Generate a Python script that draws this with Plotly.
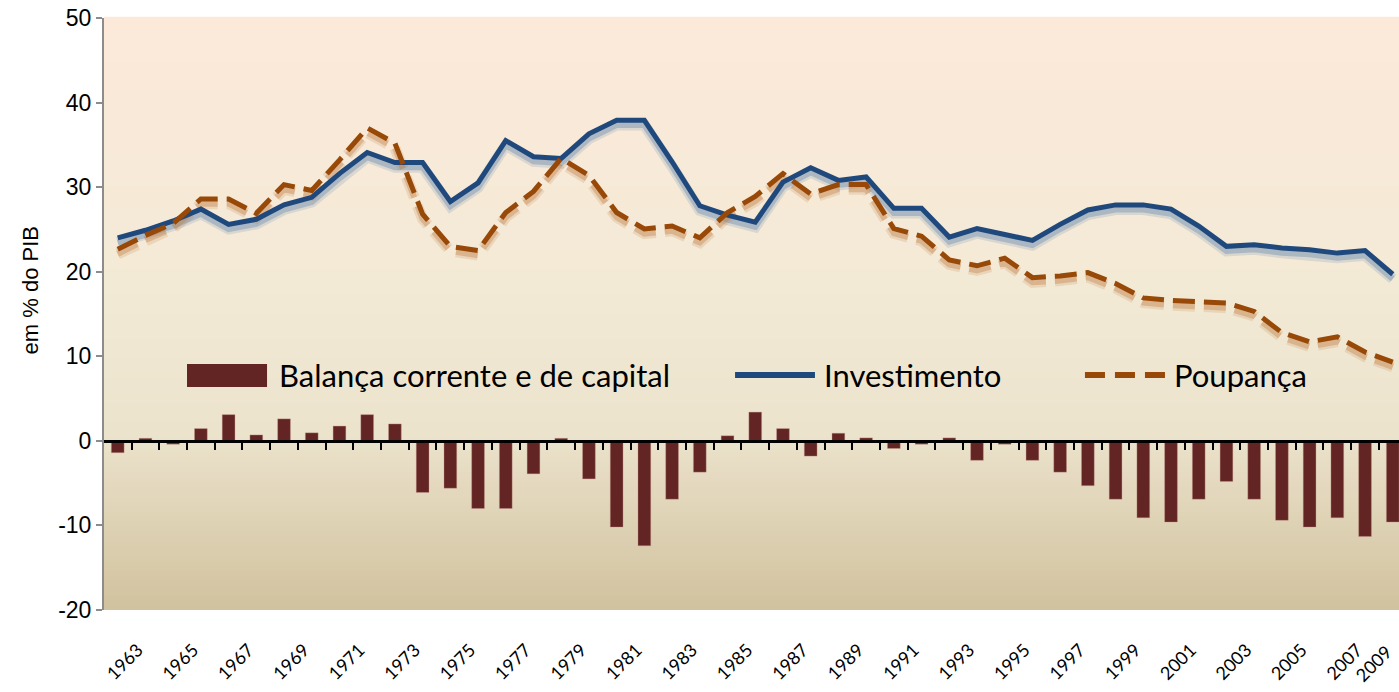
import plotly.graph_objects as go

# ---------------- data ----------------
years = list(range(1963, 2010))
tick_years = list(range(1963, 2008, 2))
last_tick_year = [2009]
y_ticks = [-20, -10, 0, 10, 20, 30, 40, 50]
y_tick_text = ["-20", "-10", "0", "10", "20", "30", "40", "50"]

balanca = [-1.4, 0.3, -0.4, 1.45, 3.1, 0.7, 2.6, 0.95, 1.75, 3.1,
           2.0, -6.1, -5.6, -8.0, -8.0, -3.9, 0.3, -4.5, -10.2, -12.4,
           -6.9, -3.7, 0.6, 3.4, 1.45, -1.8, 0.9, 0.35, -0.9, -0.4,
           0.35, -2.3, -0.4, -2.3, -3.7, -5.3, -6.9, -9.1, -9.6, -6.9,
           -4.8, -6.9, -9.4, -10.2, -9.1, -11.3, -9.6]

investimento = [24.0, 24.9, 26.0, 27.4, 25.6, 26.2, 27.9, 28.8, 31.6, 34.1,
                32.9, 32.9, 28.3, 30.5, 35.5, 33.6, 33.4, 36.3, 37.9, 37.9,
                33.0, 27.8, 26.7, 25.85, 30.6, 32.3, 30.8, 31.2, 27.5, 27.5,
                24.1, 25.1, 24.4, 23.7, 25.6, 27.3, 27.9, 27.9, 27.4, 25.4,
                23.0, 23.2, 22.8, 22.6, 22.2, 22.5, 19.7]

poupanca = [22.65, 24.3, 25.7, 28.6, 28.6, 26.9, 30.3, 29.6, 33.2, 37.0,
            35.2, 26.8, 23.0, 22.5, 27.0, 29.5, 33.4, 31.4, 27.0, 25.05,
            25.4, 24.0, 27.0, 28.9, 31.6, 29.2, 30.3, 30.3, 25.1, 24.2,
            21.4, 20.7, 21.6, 19.3, 19.5, 19.9, 18.6, 16.9, 16.6, 16.5,
            16.3, 15.3, 12.8, 11.7, 12.3, 10.5, 9.3]

names = ["Balança corrente e de capital", "Investimento", "Poupança"]

# ---------------- styles ----------------
C_BAR = "#632523"
C_INV = "#1F497D"
C_POU = "#984807"
Y_MIN, Y_MAX = -20, 50
SHADOW = 0.55  # shadow offset in data units (visual effect only)
LEG_FONT = dict(family="Lato", size=31, color="black")
XTICK_FONT = dict(family="Lato", size=18, color="black")

fig = go.Figure()

# background gradient bands (plot area)
stops = [(0.0, (209, 194, 158)), (0.30, (236, 227, 205)),
         (0.55, (243, 234, 214)), (1.0, (252, 233, 218))]


def col_at(t):
    for (t0, c0), (t1, c1) in zip(stops[:-1], stops[1:]):
        if t0 <= t <= t1:
            f = (t - t0) / (t1 - t0)
            return "rgb(%d,%d,%d)" % tuple(round(a + (b - a) * f) for a, b in zip(c0, c1))
    return "rgb(%d,%d,%d)" % stops[-1][1]


N = 120
shapes = []
for i in range(N):
    y0 = i / N
    y1 = (i + 1) / N
    shapes.append(dict(type="rect", xref="paper", yref="paper", x0=0, x1=1,
                       y0=y0, y1=y1 + 0.002, fillcolor=col_at((y0 + y1) / 2),
                       line=dict(width=0), layer="below"))

# bars
fig.add_trace(go.Bar(x=years, y=balanca, name=names[0], marker_color=C_BAR,
                     marker_line=dict(width=0.6, color="rgba(200,150,140,0.6)"),
                     width=0.46, showlegend=False))

# line shadows
for src, rgb, dash in ((investimento, "90,125,170", "solid"),
                       (poupanca, "190,120,60", "22px,9px")):
    sh = [v - SHADOW for v in src]
    fig.add_trace(go.Scatter(x=years, y=sh, mode="lines",
                             line=dict(color="rgba(%s,0.18)" % rgb, width=11, dash=dash),
                             hoverinfo="skip", showlegend=False))
    fig.add_trace(go.Scatter(x=years, y=sh, mode="lines",
                             line=dict(color="rgba(%s,0.35)" % rgb, width=6, dash=dash),
                             hoverinfo="skip", showlegend=False))

# main lines
fig.add_trace(go.Scatter(x=years, y=investimento, name=names[1], mode="lines",
                         line=dict(color=C_INV, width=5), showlegend=False))
fig.add_trace(go.Scatter(x=years, y=poupanca, name=names[2], mode="lines",
                         line=dict(color=C_POU, width=5, dash="22px,9px"),
                         showlegend=False))

# helper traces for the zero-line axis and the last year label axis
fig.add_trace(go.Scatter(x=[years[0]], y=[None], xaxis="x2", showlegend=False,
                         hoverinfo="skip"))
fig.add_trace(go.Scatter(x=[years[0]], y=[None], xaxis="x3", showlegend=False,
                         hoverinfo="skip"))

x_range = [1962.505, 2009.225]
zero_pos = (0 - Y_MIN) / (Y_MAX - Y_MIN)

# custom legend (paper coords)
leg_y = 0.397
shapes.append(dict(type="rect", xref="paper", yref="paper", x0=0.0641, x1=0.1259,
                   y0=0.3767, y1=0.4155, fillcolor=C_BAR, line=dict(width=0)))
shapes.append(dict(type="line", xref="paper", yref="paper", x0=0.4873, x1=0.5490,
                   y0=leg_y, y1=leg_y, line=dict(color=C_INV, width=6)))
shapes.append(dict(type="line", xref="paper", yref="paper", x0=0.7575, x1=0.8193,
                   y0=leg_y, y1=leg_y, line=dict(color=C_POU, width=6, dash="20px,10px")))

annotations = [
    dict(text=names[0], x=0.1336, y=leg_y, xref="paper", yref="paper",
         xanchor="left", yanchor="middle", showarrow=False, font=LEG_FONT),
    dict(text=names[1], x=0.5544, y=leg_y, xref="paper", yref="paper",
         xanchor="left", yanchor="middle", showarrow=False, font=LEG_FONT),
    dict(text=names[2], x=0.8247, y=leg_y, xref="paper", yref="paper",
         xanchor="left", yanchor="middle", showarrow=False, font=LEG_FONT),
    dict(text="em % do PIB", x=-0.0571, y=0.54, xref="paper", yref="paper",
         xanchor="center", yanchor="middle", textangle=-90, showarrow=False,
         font=dict(family="Liberation Sans", size=22, color="black")),
]

fig.update_layout(
    width=1399, height=692,
    margin=dict(l=104, r=0, t=18, b=82, autoexpand=False),
    paper_bgcolor="white",
    plot_bgcolor="rgba(0,0,0,0)",
    bargap=0.5,
    shapes=shapes,
    annotations=annotations,
    xaxis=dict(range=x_range, tickmode="array", tickvals=tick_years,
               ticktext=[str(y) for y in tick_years], tickangle=-45,
               ticks="", showline=False, showgrid=False, zeroline=False,
               ticklabelstandoff=25, ticklabelshift=20, automargin=False,
               ticklabeloverflow="allow", tickfont=XTICK_FONT),
    xaxis2=dict(range=x_range, overlaying="x", anchor="free", position=zero_pos,
                side="bottom", showticklabels=False, showgrid=False, zeroline=False,
                showline=True, linecolor="black", linewidth=2.5, automargin=False,
                tickmode="array", tickvals=[y - 0.5 for y in years] + [years[-1] + 0.5],
                ticks="outside", ticklen=7, tickwidth=2, tickcolor="black"),
    xaxis3=dict(range=x_range, overlaying="x", anchor="y", side="bottom",
                tickmode="array", tickvals=last_tick_year,
                ticktext=[str(y) for y in last_tick_year], tickangle=-45,
                ticks="", showline=False, showgrid=False, zeroline=False,
                ticklabelstandoff=27, ticklabelshift=-6, ticklabeloverflow="allow",
                automargin=False, tickfont=XTICK_FONT),
    yaxis=dict(range=[Y_MIN, Y_MAX], tickmode="array", tickvals=y_ticks,
               ticktext=y_tick_text, showgrid=False, zeroline=False, automargin=False,
               showline=True, linecolor="#8C8C8C", linewidth=2,
               ticks="outside", ticklen=6, tickwidth=1.5, tickcolor="#8C8C8C",
               tickfont=dict(family="Liberation Sans", size=23, color="black")),
)

fig.write_html("out.html", config={"displayModeBar": False},
               post_script="document.body.style.margin='0';document.body.style.overflow='hidden';")
